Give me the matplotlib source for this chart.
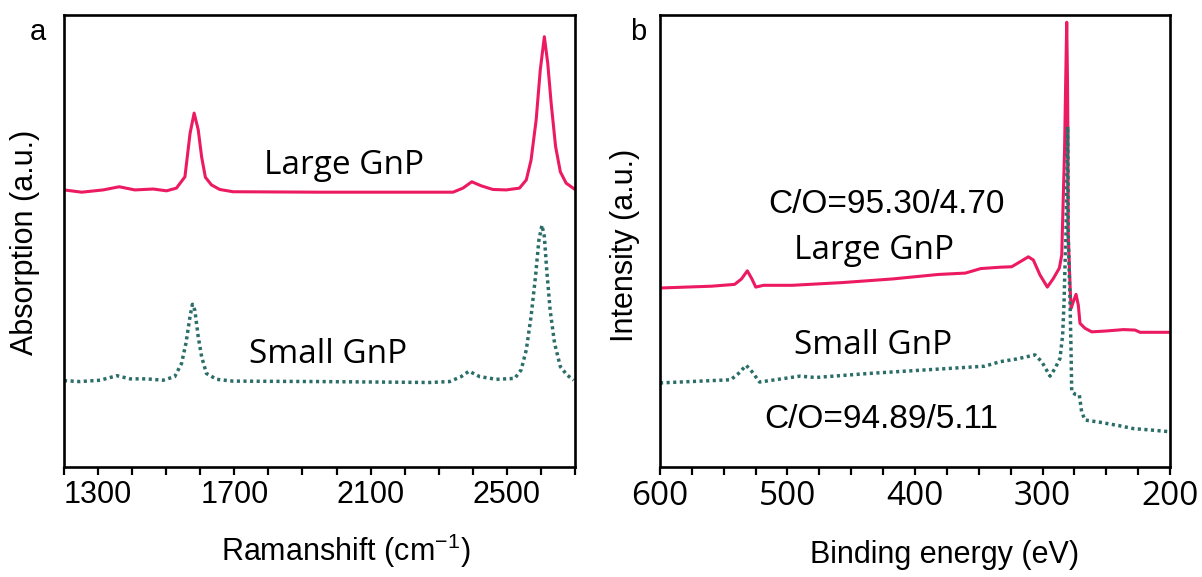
import matplotlib
matplotlib.use("Agg")
import matplotlib.pyplot as plt
from matplotlib.ticker import FixedLocator, MultipleLocator

plt.rcParams['mathtext.fontset'] = 'custom'
plt.rcParams['mathtext.rm'] = 'Liberation Sans'
plt.rcParams['mathtext.it'] = 'Liberation Sans'

# panel a: Raman spectra (cm-1, arbitrary intensity)
raman_x_large = [1200, 1252, 1315, 1362, 1408, 1462, 1501, 1530, 1555, 1570, 1582, 1594, 1604,
                 1615, 1633, 1657, 1696, 1950, 2303, 2342, 2371, 2397, 2425, 2459, 2498, 2537,
                 2557, 2571, 2586, 2598, 2610, 2620, 2630, 2643, 2657, 2674, 2700]
raman_large = [61.3, 60.8, 61.3, 62.0, 61.3, 61.5, 61.1, 61.7, 64.2, 73.8, 78.3, 74.6, 68.6,
               64.1, 62.4, 61.4, 60.9, 60.8, 60.8, 60.8, 61.7, 63.1, 62.2, 61.4, 61.3, 61.7,
               63.5, 67.9, 76.8, 87.8, 95.2, 89.3, 80.5, 70.9, 65.3, 62.8, 61.4]

raman_x_small = [1200, 1247, 1306, 1355, 1394, 1442, 1491, 1525, 1545, 1558, 1570, 1577, 1584,
                 1594, 1604, 1618, 1648, 1696, 1951, 2273, 2332, 2366, 2389, 2420, 2469, 2523,
                 2542, 2557, 2571, 2584, 2594, 2603, 2610, 2617, 2627, 2640, 2657, 2676, 2696]
raman_small = [19.1, 18.9, 19.2, 20.2, 19.5, 19.5, 19.2, 20.0, 22.9, 27.4, 33.3, 36.0, 34.7,
               28.8, 24.4, 20.7, 19.4, 19.0, 18.9, 18.7, 18.9, 20.0, 21.2, 20.0, 19.4, 19.6,
               21.5, 25.9, 33.3, 42.1, 50.2, 53.5, 51.0, 43.6, 34.7, 27.4, 22.2, 20.4, 19.2]

# panel b: XPS survey (eV, arbitrary intensity)
xps_x_large = [600, 559.6, 541.5, 536.1, 531.5, 527.9, 524.9, 518.8, 496.2, 457.0, 417.8, 381.6,
               360.5, 348.4, 333.3, 324.2, 317.6, 311.1, 307.2, 302.0, 296.2, 291.5, 286.8, 284.9,
               284.5, 282.7, 281.8, 281.0, 280.4, 280.0, 279.8, 278.4, 277.6, 275.8, 273.7, 271.9,
               270.6, 266.7, 261.4, 249.6, 236.6, 227.5, 223.5, 200]
xps_large = [39.6, 40.0, 40.4, 41.6, 43.4, 41.6, 39.8, 40.2, 40.2, 40.8, 41.6, 42.6,
             42.9, 43.9, 44.2, 44.3, 45.4, 46.5, 45.8, 42.5, 39.8, 41.7, 44.0, 46.9,
             51.3, 70.1, 85.6, 98.4, 85.6, 70.1, 51.3, 40.3, 35.1, 36.6, 38.2, 35.8,
             31.8, 30.7, 29.9, 30.1, 30.4, 30.3, 29.8, 29.8]

xps_x_small = [600, 544.5, 538.4, 532.4, 527.9, 521.9, 502.3, 490.2, 478.1, 435.9, 390.7, 345.4,
               333.3, 320.2, 305.9, 300.6, 294.1, 290.2, 286.3, 284.2, 283.1, 282.4, 281.6, 280.2,
               279.8, 278.4, 277.6, 277.1, 274.5, 271.1, 269.3, 266.7, 254.9, 239.2, 228.8, 215.7, 200]
xps_small = [18.6, 19.3, 20.7, 22.5, 21.1, 18.8, 19.6, 20.1, 19.8, 20.7, 21.5, 22.3,
             23.3, 23.9, 24.8, 23.3, 20.1, 21.8, 24.0, 29.2, 36.5, 43.9, 51.3, 75.3,
             51.3, 36.5, 25.5, 16.7, 16.1, 15.9, 12.2, 10.4, 9.9, 9.1, 8.5, 8.2, 7.8]

raman_ticks = [1300, 1700, 2100, 2500]
xps_ticks = [600, 500, 400, 300, 200]

pink = '#EC1A62'
teal = '#2B6E69'
arial = 'Liberation Sans'
segoe = 'Open Sans'

fig = plt.figure(figsize=(12.02, 5.77), dpi=100)
ax1 = fig.add_axes([64 / 1202, 110 / 577, 511 / 1202, 452 / 577])
ax2 = fig.add_axes([660 / 1202, 110 / 577, 510 / 1202, 452 / 577])

ax1.plot(raman_x_large, raman_large, color=pink, lw=2.2, solid_joinstyle='round')
ax1.plot(raman_x_small, raman_small, color=teal, lw=2.5, linestyle=(0, (0.9, 1.0)))
ax2.plot(xps_x_large, xps_large, color=pink, lw=2.2, solid_joinstyle='round')
ax2.plot(xps_x_small, xps_small, color=teal, lw=2.5, linestyle=(0, (0.9, 1.0)))

ax1.set_xlim(1200, 2700)
ax2.set_xlim(600, 200)
for ax in (ax1, ax2):
    ax.set_ylim(0, 100)
    ax.set_yticks([])
    for sp in ax.spines.values():
        sp.set_linewidth(1.9)
    ax.tick_params(axis='x', which='major', direction='out', length=5.5, width=1.6, pad=4)
    ax.tick_params(axis='x', which='minor', direction='out', length=5.5, width=1.6)

ax1.xaxis.set_major_locator(FixedLocator(raman_ticks))
ax1.xaxis.set_minor_locator(MultipleLocator(100))
ax2.xaxis.set_major_locator(FixedLocator(xps_ticks))
ax2.xaxis.set_minor_locator(MultipleLocator(25))

for lab in ax1.get_xticklabels():
    lab.set_fontfamily(arial)
    lab.set_fontsize(22)
for lab in ax2.get_xticklabels():
    lab.set_fontfamily(segoe)
    lab.set_fontsize(24)

ax1.set_xlabel('Ramanshift (cm$^{-1}$)', fontfamily=arial, fontsize=22, va='center')
ax1.xaxis.set_label_coords(0.552, -0.186)
ax1.set_ylabel('Absorption (a.u.)', fontfamily=arial, fontsize=22, va='center')
ax1.yaxis.set_label_coords(-0.076, 0.496)

ax2.set_xlabel('Binding energy (eV)', fontfamily=arial, fontsize=22, va='center')
ax2.xaxis.set_label_coords(0.557, -0.194)
ax2.set_ylabel('Intensity (a.u.)', fontfamily=arial, fontsize=22, va='center')
ax2.yaxis.set_label_coords(-0.069, 0.491)

fig.text(38 / 1202, 1 - 40 / 577, 'a', fontfamily=arial, fontsize=21, ha='center', va='baseline')
fig.text(638 / 1202, 1 - 40 / 577, 'b', fontfamily=arial, fontsize=21, ha='center', va='baseline')

ax1.text(2021, 66.6, 'Large GnP', fontfamily=segoe, fontsize=24, ha='center', va='center')
ax1.text(1974, 24.8, 'Small GnP', fontfamily=segoe, fontsize=24, ha='center', va='center')

ax2.text(422.7, 58.0, 'C/O=95.30/4.70', fontfamily=arial, fontsize=24, ha='center', va='center')
ax2.text(432.2, 48.0, 'Large GnP', fontfamily=segoe, fontsize=24, ha='center', va='center')
ax2.text(433.1, 26.8, 'Small GnP', fontfamily=segoe, fontsize=24, ha='center', va='center')
ax2.text(426.7, 10.4, 'C/O=94.89/5.11', fontfamily=arial, fontsize=24, ha='center', va='center')

fig.savefig('out.png', dpi=100)
